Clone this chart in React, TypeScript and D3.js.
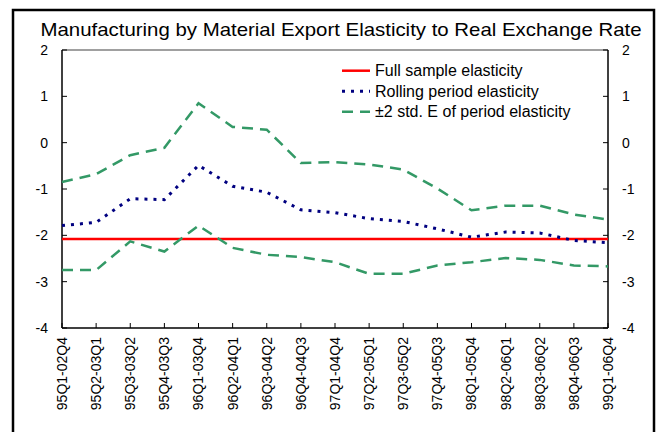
import React from "react";
import * as d3 from "d3";

const title = "Manufacturing by Material Export Elasticity to Real Exchange Rate";

const periods = [
  "95Q1-02Q4", "95Q2-03Q1", "95Q3-03Q2", "95Q4-03Q3", "96Q1-03Q4", "96Q2-04Q1",
  "96Q3-04Q2", "96Q4-04Q3", "97Q1-04Q4", "97Q2-05Q1", "97Q3-05Q2", "97Q4-05Q3",
  "98Q1-05Q4", "98Q2-06Q1", "98Q3-06Q2", "98Q4-06Q3", "99Q1-06Q4",
];

const fullSample = -2.08;

const rolling = [
  -1.79, -1.72, -1.21, -1.23, -0.49, -0.94, -1.07, -1.45, -1.51,
  -1.64, -1.7, -1.86, -2.04, -1.93, -1.95, -2.11, -2.16,
];

const upperBand = [
  -0.85, -0.68, -0.27, -0.11, 0.85, 0.34, 0.28, -0.44, -0.42,
  -0.47, -0.58, -0.99, -1.46, -1.36, -1.36, -1.55, -1.66,
];

const lowerBand = [
  -2.75, -2.75, -2.13, -2.35, -1.79, -2.27, -2.42, -2.47, -2.58,
  -2.83, -2.83, -2.65, -2.58, -2.49, -2.53, -2.65, -2.67,
];

const yTicks = [-4, -3, -2, -1, 0, 1, 2];

const legendItems = [
  { label: "Full sample elasticity", color: "#FF0000", dash: "none", width: 2.5 },
  { label: "Rolling period elasticity", color: "#000080", dash: "3,6", width: 3 },
  { label: "±2 std. E of period elasticity", color: "#339966", dash: "11,7", width: 2.5 },
];

export default function App() {
  const W = 660;
  const H = 432;
  const left = 62;
  const right = 608;
  const top = 50;
  const bottom = 328;
  const font = "Arial, 'Liberation Sans', sans-serif";

  const x = d3.scalePoint<string>().domain(periods).range([left, right]);
  const y = d3.scaleLinear().domain([-4, 2]).range([bottom, top]);

  const line = d3
    .line<number>()
    .x((_, i) => x(periods[i]) as number)
    .y((d) => y(d));

  const green = "#339966";
  const navy = "#000080";

  return (
    <svg
      width={W}
      height={H}
      style={{ position: "absolute", left: 0, top: 0, background: "#fff" }}
      fontFamily={font}
    >
      <rect x={0} y={0} width={W} height={H} fill="#fff" />
      <rect x={13} y={10} width={641} height={450} fill="none" stroke="#000" strokeWidth={2.5} />

      <text x={341} y={36} textAnchor="middle" fontSize={19} textLength={601} lengthAdjust="spacingAndGlyphs" fill="#000">
        {title}
      </text>

      {/* plot frame */}
      <line x1={left} x2={right} y1={top} y2={top} stroke="#808080" strokeWidth={1.5} />
      <line x1={left} x2={left} y1={top} y2={bottom} stroke="#000" strokeWidth={1.5} />
      <line x1={right} x2={right} y1={top} y2={bottom} stroke="#000" strokeWidth={1.5} />
      <line x1={left} x2={right} y1={bottom} y2={bottom} stroke="#000" strokeWidth={1.5} />

      {/* y ticks */}
      {yTicks.map((t) => (
        <g key={t}>
          <line x1={left} x2={left + 5} y1={y(t)} y2={y(t)} stroke="#000" strokeWidth={1} />
          <line x1={right - 5} x2={right} y1={y(t)} y2={y(t)} stroke="#000" strokeWidth={1} />
          <text x={48} y={y(t)} dy="0.35em" textAnchor="end" fontSize={14} fill="#000">
            {t < 0 ? `-${Math.abs(t)}` : t}
          </text>
          <text x={622} y={y(t)} dy="0.35em" textAnchor="start" fontSize={14} fill="#000">
            {t < 0 ? `-${Math.abs(t)}` : t}
          </text>
        </g>
      ))}

      {/* x ticks */}
      {periods.map((p) => {
        const px = x(p) as number;
        return (
          <g key={p}>
            <line x1={px} x2={px} y1={bottom} y2={bottom - 5} stroke="#000" strokeWidth={1} />
            <text
              transform={`translate(${px},337) rotate(-90)`}
              textAnchor="end"
              dy="0.35em"
              fontSize={14}
              fill="#000"
            >
              {p}
            </text>
          </g>
        );
      })}

      {/* series */}
      <line x1={left} x2={right} y1={y(fullSample)} y2={y(fullSample)} stroke="#FF0000" strokeWidth={2.5} />
      <path d={line(upperBand) || ""} fill="none" stroke={green} strokeWidth={2.5} strokeDasharray="11,7" />
      <path d={line(lowerBand) || ""} fill="none" stroke={green} strokeWidth={2.5} strokeDasharray="11,7" />
      <path d={line(rolling) || ""} fill="none" stroke={navy} strokeWidth={3} strokeDasharray="3,6" />

      {/* legend */}
      {legendItems.map((it, i) => {
        const ly = 70.7 + i * 20.5;
        return (
          <g key={it.label}>
            <line
              x1={342}
              x2={370}
              y1={ly}
              y2={ly}
              stroke={it.color}
              strokeWidth={it.width}
              strokeDasharray={it.dash}
            />
            <text x={375} y={ly} dy="0.35em" fontSize={16} fill="#000">
              {it.label}
            </text>
          </g>
        );
      })}
    </svg>
  );
}
